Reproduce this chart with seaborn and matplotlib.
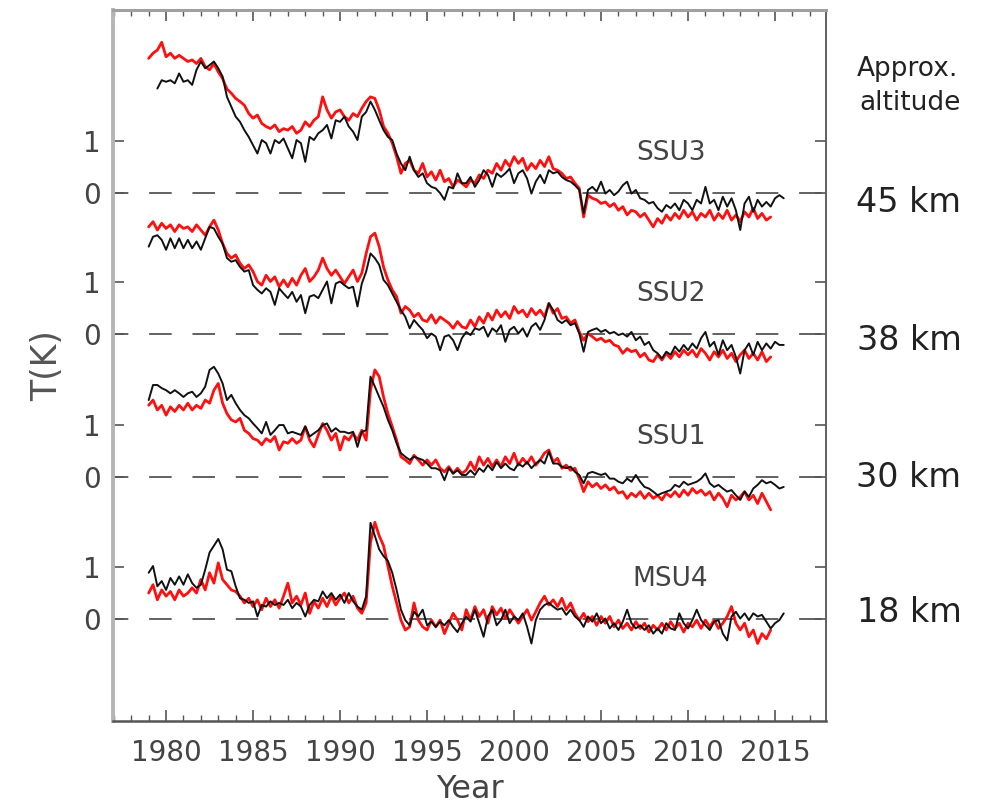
import numpy as np
import pandas as pd
import matplotlib
matplotlib.use("Agg")
import matplotlib.pyplot as plt
import seaborn as sns

nan = float("nan")

# quarterly time axis, 1979.0 .. 2015.5
years = [1979.0 + 0.25 * i for i in range(147)]

channels = ["MSU4", "SSU1", "SSU2", "SSU3"]
altitudes = ["18 km", "30 km", "38 km", "45 km"]
panel_offsets = [0.0, 2.73, 5.48, 8.19]

ssu3_red = [
    2.59, 2.69, 2.75, 2.90, 2.62, 2.69, 2.59, 2.65, 2.59, 2.53, 2.56, 2.49,
    2.59, 2.43, 2.37, 2.49, 2.33, 2.20, 2.00, 1.92, 1.82, 1.76, 1.69, 1.53,
    1.44, 1.50, 1.34, 1.28, 1.24, 1.31, 1.18, 1.24, 1.21, 1.28, 1.15, 1.21,
    1.37, 1.28, 1.40, 1.47, 1.85, 1.60, 1.44, 1.56, 1.60, 1.47, 1.40, 1.53,
    1.47, 1.63, 1.76, 1.85, 1.82, 1.60, 1.28, 1.15, 0.96, 0.70, 0.38, 0.57,
    0.63, 0.44, 0.38, 0.57, 0.31, 0.41, 0.25, 0.44, 0.22, 0.28, 0.12, 0.25,
    0.19, 0.12, 0.25, 0.19, 0.35, 0.28, 0.44, 0.38, 0.57, 0.44, 0.63, 0.51,
    0.70, 0.57, 0.67, 0.44, 0.57, 0.47, 0.63, 0.51, 0.70, 0.47, 0.44, 0.38,
    0.28, 0.31, 0.19, 0.09, -0.46, -0.04, -0.10, -0.13, -0.20, -0.17, -0.26, -0.20,
    -0.33, -0.26, -0.42, -0.33, -0.36, -0.46, -0.39, -0.52, -0.65, -0.49, -0.58, -0.42,
    -0.52, -0.39, -0.49, -0.33, -0.46, -0.36, -0.52, -0.39, -0.46, -0.33, -0.52, -0.39,
    -0.49, -0.33, -0.52, -0.42, -0.55, -0.36, -0.46, -0.29, -0.49, -0.39, -0.52, -0.46,
]
ssu3_black = [
    nan, nan, 2.01, 2.17, 2.14, 2.17, 2.11, 2.30, 2.14, 2.17, 2.08, 2.37,
    2.53, 2.40, 2.46, 2.53, 2.40, 2.24, 1.85, 1.66, 1.47, 1.37, 1.21, 1.08,
    0.92, 0.76, 1.02, 0.96, 0.76, 1.02, 0.96, 1.05, 0.86, 0.67, 1.02, 0.96,
    0.60, 1.08, 1.02, 1.15, 1.21, 1.31, 1.05, 1.40, 1.37, 1.47, 1.28, 1.18,
    1.02, 1.47, 1.56, 1.76, 1.60, 1.40, 1.21, 1.08, 1.02, 0.76, 0.57, 0.44,
    0.70, 0.44, 0.31, 0.38, 0.19, 0.12, 0.09, 0.00, -0.13, 0.12, 0.09, 0.38,
    0.19, 0.19, 0.31, 0.12, 0.25, 0.44, 0.35, 0.12, 0.38, 0.31, 0.38, 0.47,
    0.19, 0.38, 0.44, 0.28, -0.01, 0.22, 0.35, 0.19, 0.44, 0.38, 0.41, 0.31,
    0.25, 0.22, 0.15, 0.06, -0.39, 0.06, 0.12, 0.03, 0.22, -0.01, 0.06, -0.04,
    0.03, 0.15, 0.22, -0.01, 0.06, -0.10, -0.13, -0.20, -0.17, -0.29, -0.36, -0.23,
    -0.29, -0.20, -0.33, -0.13, -0.20, -0.33, -0.13, -0.20, 0.12, -0.20, -0.13, -0.33,
    -0.07, -0.26, -0.10, -0.33, -0.71, -0.20, -0.07, -0.36, -0.13, -0.26, -0.17, -0.26,
    -0.10, -0.04, -0.10,
]

ssu2_red = [
    2.06, 2.16, 2.00, 2.13, 2.03, 2.10, 1.97, 2.10, 2.03, 2.06, 1.97, 2.10,
    2.00, 1.90, 2.06, 2.19, 2.00, 1.74, 1.55, 1.46, 1.52, 1.36, 1.26, 1.33,
    1.20, 1.01, 0.94, 1.13, 1.01, 1.10, 0.91, 1.04, 0.91, 1.07, 0.94, 1.13,
    1.26, 1.01, 1.10, 1.23, 1.46, 1.26, 1.13, 1.23, 1.10, 0.97, 1.10, 1.23,
    1.01, 1.17, 1.55, 1.87, 1.94, 1.68, 1.29, 1.04, 0.85, 0.72, 0.40, 0.53,
    0.46, 0.33, 0.40, 0.27, 0.24, 0.37, 0.21, 0.33, 0.27, 0.21, 0.11, 0.24,
    0.14, 0.11, 0.27, 0.14, 0.33, 0.21, 0.40, 0.27, 0.46, 0.33, 0.43, 0.30,
    0.53, 0.40, 0.46, 0.33, 0.49, 0.37, 0.46, 0.33, 0.59, 0.40, 0.49, 0.30,
    0.33, 0.21, 0.27, 0.04, -0.12, 0.01, -0.05, -0.12, -0.08, -0.15, -0.12, -0.21,
    -0.24, -0.37, -0.28, -0.34, -0.31, -0.44, -0.37, -0.50, -0.53, -0.40, -0.50, -0.37,
    -0.47, -0.34, -0.44, -0.31, -0.40, -0.31, -0.44, -0.28, -0.37, -0.50, -0.34, -0.44,
    -0.31, -0.47, -0.37, -0.53, -0.40, -0.31, -0.47, -0.37, -0.50, -0.34, -0.53, -0.44,
]
ssu2_black = [
    1.68, 1.87, 1.90, 1.81, 1.62, 1.84, 1.65, 1.84, 1.65, 1.81, 1.65, 1.78,
    1.62, 1.84, 2.06, 2.03, 1.87, 1.74, 1.46, 1.39, 1.42, 1.29, 1.20, 1.23,
    0.94, 0.85, 0.78, 0.88, 0.81, 0.56, 0.88, 0.78, 0.69, 0.81, 0.62, 0.75,
    0.40, 0.72, 0.75, 0.69, 0.85, 1.01, 0.59, 0.97, 1.01, 0.94, 0.88, 0.91,
    0.53, 0.97, 1.20, 1.55, 1.46, 1.33, 1.04, 0.94, 0.78, 0.62, 0.46, 0.33,
    0.11, 0.27, 0.17, 0.08, -0.08, 0.01, -0.05, -0.31, -0.05, -0.02, -0.12, -0.31,
    -0.08, 0.04, -0.02, 0.11, 0.08, 0.14, -0.05, 0.11, 0.04, 0.17, -0.15, 0.08,
    0.14, 0.01, 0.11, -0.05, 0.14, 0.21, 0.08, 0.27, 0.59, 0.46, 0.27, 0.21,
    0.27, 0.17, 0.21, 0.01, -0.34, 0.04, 0.08, 0.11, 0.04, 0.08, 0.01, 0.04,
    -0.02, 0.01, -0.05, 0.04, -0.12, -0.05, -0.21, -0.15, -0.31, -0.37, -0.47, -0.34,
    -0.40, -0.24, -0.34, -0.21, -0.31, -0.18, -0.28, -0.08, 0.04, -0.24, -0.15, -0.40,
    -0.12, -0.31, -0.21, -0.44, -0.76, -0.31, -0.18, -0.40, -0.15, -0.31, -0.18, -0.28,
    -0.15, -0.21, -0.21,
]

ssu1_red = [
    1.38, 1.48, 1.29, 1.38, 1.19, 1.35, 1.26, 1.38, 1.29, 1.42, 1.29, 1.38,
    1.32, 1.48, 1.42, 1.67, 1.80, 1.42, 1.22, 1.10, 1.06, 1.13, 0.90, 0.84,
    0.74, 0.71, 0.62, 0.74, 0.68, 0.78, 0.52, 0.68, 0.65, 0.74, 0.65, 0.71,
    0.97, 0.71, 0.58, 0.81, 1.03, 0.90, 0.71, 0.84, 0.52, 0.78, 0.71, 0.84,
    0.71, 0.90, 0.71, 1.67, 2.06, 1.93, 1.54, 1.22, 0.97, 0.71, 0.39, 0.33,
    0.26, 0.42, 0.33, 0.23, 0.33, 0.23, 0.33, 0.17, 0.10, 0.20, 0.07, 0.17,
    0.07, 0.13, 0.29, 0.13, 0.39, 0.23, 0.36, 0.20, 0.33, 0.20, 0.39, 0.26,
    0.46, 0.23, 0.36, 0.26, 0.39, 0.23, 0.33, 0.46, 0.52, 0.29, 0.36, 0.17,
    0.23, 0.13, 0.17, -0.03, -0.28, -0.09, -0.19, -0.12, -0.22, -0.15, -0.25, -0.19,
    -0.31, -0.28, -0.41, -0.31, -0.38, -0.28, -0.41, -0.31, -0.41, -0.35, -0.44, -0.31,
    -0.38, -0.28, -0.38, -0.25, -0.35, -0.22, -0.31, -0.25, -0.35, -0.28, -0.44, -0.31,
    -0.41, -0.57, -0.35, -0.44, -0.38, -0.28, -0.44, -0.35, -0.51, -0.31, -0.47, -0.63,
]
ssu1_black = [
    1.48, 1.77, 1.77, 1.71, 1.67, 1.61, 1.67, 1.61, 1.54, 1.61, 1.64, 1.54,
    1.61, 1.74, 2.06, 2.12, 1.99, 1.80, 1.48, 1.58, 1.42, 1.29, 1.19, 1.13,
    1.03, 0.94, 0.84, 1.06, 0.81, 0.90, 1.00, 1.00, 0.84, 0.87, 0.84, 0.81,
    0.97, 0.78, 0.84, 0.90, 1.00, 1.03, 0.87, 0.94, 0.87, 0.87, 0.84, 0.87,
    0.58, 0.87, 0.90, 1.93, 1.74, 1.54, 1.35, 1.10, 0.90, 0.65, 0.46, 0.39,
    0.33, 0.39, 0.36, 0.33, 0.26, 0.17, 0.17, 0.13, -0.06, 0.17, 0.07, 0.13,
    0.04, 0.04, 0.13, 0.04, 0.17, 0.10, 0.23, 0.13, 0.29, 0.17, 0.26, 0.17,
    0.13, 0.26, 0.20, 0.29, 0.17, 0.26, 0.33, 0.26, 0.49, 0.26, 0.26, 0.20,
    0.17, 0.20, 0.10, 0.04, -0.12, 0.07, 0.10, 0.07, 0.04, 0.07, -0.03, -0.03,
    -0.09, -0.12, -0.03, -0.09, 0.04, -0.09, -0.19, -0.22, -0.28, -0.35, -0.31, -0.28,
    -0.25, -0.15, -0.19, -0.09, -0.15, -0.12, -0.09, -0.03, 0.07, -0.12, -0.19, -0.15,
    -0.22, -0.28, -0.25, -0.35, -0.44, -0.28, -0.38, -0.22, -0.15, -0.06, -0.12, -0.09,
    -0.15, -0.22, -0.19,
]

msu4_red = [
    0.50, 0.66, 0.37, 0.56, 0.44, 0.53, 0.37, 0.56, 0.44, 0.50, 0.60, 0.50,
    0.76, 0.56, 0.89, 0.69, 1.08, 0.76, 0.66, 0.56, 0.53, 0.44, 0.31, 0.40,
    0.24, 0.37, 0.18, 0.40, 0.24, 0.37, 0.21, 0.44, 0.69, 0.31, 0.44, 0.27,
    0.50, 0.11, 0.34, 0.21, 0.40, 0.24, 0.44, 0.27, 0.40, 0.50, 0.31, 0.44,
    0.21, 0.11, 0.31, 1.47, 1.86, 1.60, 1.41, 1.02, 0.63, 0.31, -0.02, -0.21,
    -0.15, 0.31, -0.02, -0.15, -0.21, -0.02, -0.15, -0.02, -0.28, -0.08, 0.11, -0.02,
    -0.21, 0.18, -0.02, 0.24, 0.05, 0.18, -0.08, 0.24, 0.08, 0.21, 0.01, 0.18,
    0.05, -0.08, 0.05, 0.18, -0.02, 0.14, 0.31, 0.44, 0.27, 0.37, 0.24, 0.40,
    0.18, 0.31, 0.11, -0.02, 0.11, -0.05, 0.05, -0.12, 0.05, -0.08, 0.05, -0.15,
    -0.02, -0.18, -0.08, -0.21, -0.05, -0.18, -0.08, -0.25, -0.12, -0.21, -0.08, -0.21,
    -0.05, -0.18, -0.08, -0.25, -0.08, -0.15, -0.02, -0.18, -0.02, -0.15, -0.02, -0.18,
    -0.08, 0.05, 0.24, -0.08, -0.21, -0.08, -0.34, -0.21, -0.47, -0.28, -0.38, -0.21,
]
msu4_black = [
    0.89, 1.02, 0.63, 0.73, 0.56, 0.79, 0.66, 0.82, 0.66, 0.86, 0.69, 0.60,
    0.66, 0.95, 1.28, 1.41, 1.54, 1.34, 0.95, 0.92, 0.63, 0.40, 0.37, 0.31,
    0.34, 0.05, 0.27, 0.24, 0.34, 0.27, 0.31, 0.27, 0.37, 0.21, 0.31, 0.24,
    0.05, 0.27, 0.37, 0.34, 0.53, 0.40, 0.50, 0.37, 0.47, 0.31, 0.50, 0.34,
    0.24, 0.18, 0.44, 1.85, 1.60, 1.34, 1.21, 1.12, 0.89, 0.56, 0.18, -0.02,
    -0.12, 0.14, 0.05, 0.18, -0.12, -0.05, -0.15, -0.05, -0.12, -0.02, -0.15, -0.25,
    -0.08, 0.05, -0.05, 0.18, -0.08, -0.34, 0.05, 0.18, -0.12, -0.02, 0.18, -0.08,
    0.05, -0.02, 0.11, -0.15, -0.47, -0.02, 0.18, 0.27, 0.31, 0.24, 0.18, 0.21,
    0.08, 0.18, 0.05, -0.02, -0.15, 0.05, -0.05, 0.11, -0.08, 0.01, -0.18, -0.08,
    -0.21, -0.05, 0.18, -0.08, -0.18, -0.12, -0.21, -0.12, -0.28, -0.18, -0.28, -0.08,
    -0.18, -0.21, 0.11, -0.08, -0.18, -0.02, 0.18, -0.02, -0.12, -0.21, -0.05, -0.02,
    -0.28, -0.41, 0.05, 0.14, 0.01, 0.11, -0.02, 0.11, 0.05, 0.08, -0.05, -0.18,
    -0.08, -0.02, 0.11,
]

red_series = [msu4_red, ssu1_red, ssu2_red, ssu3_red]
black_series = [msu4_black, ssu1_black, ssu2_black, ssu3_black]

xtick_major = [1980, 1985, 1990, 1995, 2000, 2005, 2010, 2015]

# ---------------------------------------------------------------- styling
sns.set_theme(style="white")
plt.rcParams["font.family"] = ["DejaVu Sans"]

W, H = 984, 809
fig = plt.figure(figsize=(W / 100, H / 100), dpi=100)
L, R, T, B = 113, 826, 10, 721
ax = fig.add_axes([L / W, 1 - B / H, (R - L) / W, (B - T) / H])

for off, red, black in zip(panel_offsets, red_series, black_series):
    ax.axhline(off, color="#555555", lw=1.3, ls=(4, (12.5, 11.5)), zorder=1)
    dr = pd.DataFrame({"year": years[:len(red)], "T": np.array(red) + off})
    db = pd.DataFrame({"year": years[:len(black)], "T": np.array(black) + off})
    sns.lineplot(data=dr, x="year", y="T", color="#ff1010", lw=2.0,
                 estimator=None, ax=ax, zorder=2)
    sns.lineplot(data=db, x="year", y="T", color="#111111", lw=1.4,
                 estimator=None, ax=ax, zorder=3)

for off, name in zip(panel_offsets, channels):
    ax.text(2009.0, off + 0.77, name, ha="center", va="center",
            fontsize=19, color="#444444")

ax.set_xlim(1976.95, 2017.93)
ax.set_ylim(-1.96, 11.71)

yt = []
ytl = []
for off in panel_offsets:
    yt += [off, off + 1]
    ytl += ["0", "1"]
ax.set_yticks(yt)
ax.set_yticklabels(ytl)
ax.set_xticks(xtick_major)
ax.set_xticklabels([str(v) for v in xtick_major])
ax.set_xticks(list(range(1977, 2018)), minor=True)

ax.tick_params(axis="x", which="major", direction="in", length=8, width=1.2,
               color="#555555", top=True, bottom=True, labelsize=20,
               labelcolor="#444444", pad=13)
ax.tick_params(axis="x", which="minor", direction="in", length=4, width=1.0,
               color="#555555", top=True, bottom=True)
ax.tick_params(axis="y", which="major", direction="in", length=8, width=1.2,
               color="#555555", left=True, right=True, labelsize=20,
               labelcolor="#444444", pad=9)

ax.spines["left"].set_color("#b5b5b5")
ax.spines["left"].set_linewidth(2.8)
ax.spines["top"].set_color("#a0a0a0")
ax.spines["top"].set_linewidth(2.2)
ax.spines["bottom"].set_color("#555555")
ax.spines["bottom"].set_linewidth(1.8)
ax.spines["right"].set_color("#555555")
ax.spines["right"].set_linewidth(1.3)

ax.set_xlabel("Year", fontsize=23, color="#444444")
ax.xaxis.set_label_coords(0.5, -0.074)
ax.xaxis.label.set_va("top")
ax.set_ylabel("T(K)", fontsize=25, color="#555555")
ax.yaxis.set_label_coords(-0.068, 0.5)

# right-hand annotations
fig.text(907 / W, 1 - 69 / H, "Approx.", ha="center", va="center",
         fontsize=19, color="#222222")
fig.text(910 / W, 1 - 103 / H, "altitude", ha="center", va="center",
         fontsize=19, color="#222222")
alt_y = [612, 477, 341, 203]
for yy, lab in zip(alt_y, altitudes):
    fig.text(909 / W, 1 - yy / H, lab, ha="center", va="center",
             fontsize=24, color="#222222")

fig.savefig("out.png", dpi=100, facecolor="white")
